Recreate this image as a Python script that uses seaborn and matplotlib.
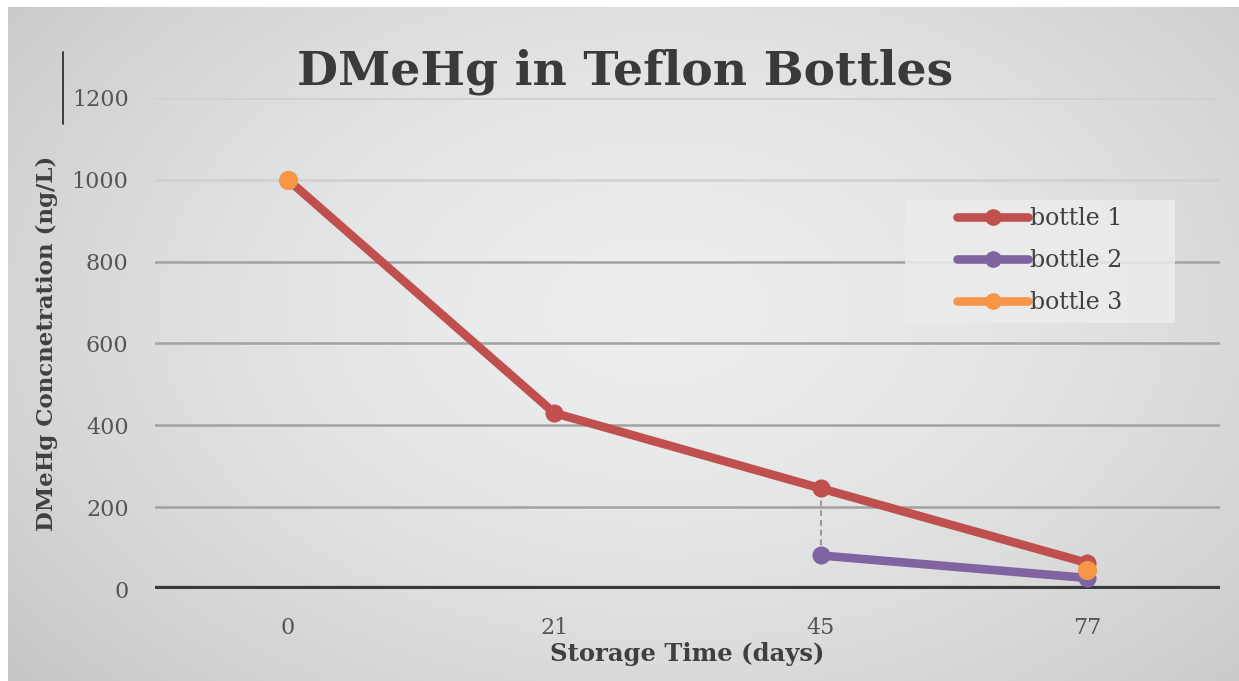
import numpy as np
import pandas as pd
import matplotlib
matplotlib.use("Agg")
import matplotlib.pyplot as plt
from matplotlib.lines import Line2D
from matplotlib.patches import Rectangle
import seaborn as sns

# ---- data ----
days = ["0", "21", "45", "77"]
bottle1 = [1000, 430, 246, 64]
bottle2_days = ["45", "77"]
bottle2 = [82, 27]
bottle3_days = ["0", "77"]
bottle3 = [1000, 46]
y_ticks = [0, 200, 400, 600, 800, 1000, 1200]
series_names = ["bottle 1", "bottle 2", "bottle 3"]

title = "DMeHg in Teflon Bottles"
xlabel = "Storage Time (days)"
ylabel = "DMeHg Concnetration (ng/L)"

c1, c2, c3 = "#c0504d", "#8064a2", "#f79646"

sns.set_theme(style="white")
plt.rcParams['font.family'] = ['DejaVu Serif']

W, H = 1239, 681
fig = plt.figure(figsize=(W / 100, H / 100), dpi=100)
fig.patch.set_facecolor("white")

# background gradient panel
bg = fig.add_axes([8 / W, 0, 1 - 8 / W, 1 - 7 / H])
yy, xx = np.mgrid[0:1:300j, 0:1:600j]
r = np.sqrt(((xx - 0.52) / 0.75) ** 2 + ((yy - 0.45) / 0.9) ** 2)
val = 0.935 - 0.17 * r ** 1.6
rgb = np.dstack([val - 0.015 * (1 - xx), val - 0.008 * (1 - xx), val])
bg.imshow(np.clip(rgb, 0, 1), aspect="auto", extent=[0, 1, 1, 0], interpolation="bilinear")
bg.set_axis_off()

ax = fig.add_axes([155 / W, 1 - 589 / H, (1220 - 155) / W, (589 - 98) / H])
ax.set_facecolor("none")

df1 = pd.DataFrame({"x": [days.index(d) for d in days], "y": bottle1})
df2 = pd.DataFrame({"x": [days.index(d) for d in bottle2_days], "y": bottle2})
df3 = pd.DataFrame({"x": [days.index(d) for d in bottle3_days], "y": bottle3})

# gridlines
for t in y_ticks[1:]:
    col = "#a2a2a2" if t <= 800 else "#d0d0d0"
    ax.axhline(t, color=col, lw=1.8, zorder=0)
ax.axhline(0, color="#3a3a3a", lw=4.5, zorder=1)

# drop line at day 45
i45 = days.index("45")
ax.vlines(i45, bottle2[bottle2_days.index("45")], bottle1[i45], colors="#9a9a9a",
          linestyles=(0, (3, 2)), lw=1.4, zorder=2)

sns.lineplot(data=df1, x="x", y="y", ax=ax, color=c1, lw=6.2, marker="o",
             markersize=13, markeredgewidth=0, zorder=3)
sns.lineplot(data=df2, x="x", y="y", ax=ax, color=c2, lw=6.2, marker="o",
             markersize=13, markeredgewidth=0, zorder=4)
sns.scatterplot(data=df3, x="x", y="y", ax=ax, color=c3, s=190, linewidth=0, zorder=5)

ax.set_xlim(-0.5, len(days) - 0.5)
ax.set_ylim(0, 1200)
ax.set_xticks(range(len(days)))
ax.set_xticklabels(days)
ax.set_yticks(y_ticks)
ax.tick_params(axis="both", length=0, labelsize=16, labelcolor="#555555")
ax.tick_params(axis="x", pad=20)
ax.tick_params(axis="y", pad=19)
for s in ax.spines.values():
    s.set_visible(False)
ax.set_xlabel(xlabel, fontsize=17.5, fontweight="bold", color="#404040", labelpad=2)
ax.set_ylabel(ylabel, fontsize=16.5, fontweight="bold", color="#404040", labelpad=10)

fig.text(625 / W, 1 - 72 / H, title, ha="center", va="center", fontsize=34,
         fontweight="bold", color="#3a3a3a")

# stray vertical mark
fig.add_artist(Line2D([63 / W, 63 / W], [1 - 52 / H, 1 - 124 / H], color="#222222", lw=1.2))

# legend background box (behind legend, above gridlines)
box = Rectangle((905 / W, 1 - 323 / H), 270 / W, 123 / H,
                transform=fig.transFigure, facecolor="#ececec",
                edgecolor="none", alpha=0.85, zorder=2.5, clip_on=False)
ax.add_patch(box)
handles = [Line2D([], [], color=c, lw=6.2, marker="o", markersize=12, markeredgewidth=0)
           for c in (c1, c2, c3)]
leg = ax.legend(handles, series_names, loc="upper left",
                bbox_to_anchor=((950 - 155) / (1220 - 155), (589 - 200) / (589 - 98)),
                frameon=False, fontsize=17, handlelength=3.0, handletextpad=0.1,
                labelspacing=0.8, borderpad=0.3, borderaxespad=0)
leg.set_zorder(10)
for t in leg.get_texts():
    t.set_color("#404040")

fig.savefig("out.png", dpi=100)
